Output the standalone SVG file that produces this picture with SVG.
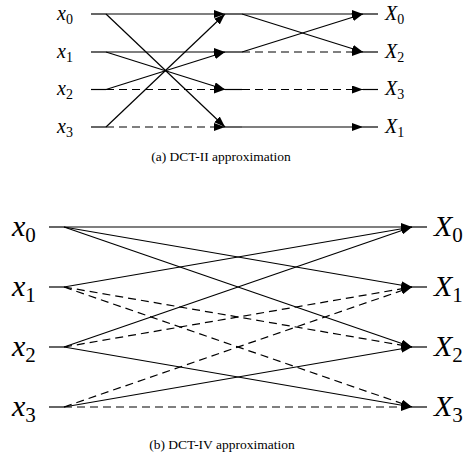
<svg xmlns="http://www.w3.org/2000/svg" width="465" height="461" viewBox="0 0 465 461">
<style>
.ln{stroke:#000;stroke-width:1.2;fill:none}
.d{stroke-dasharray:8 5}
.lab{font-family:"Liberation Serif","Times New Roman",serif;font-style:italic;fill:#000}
.sub{font-style:normal}
.cap{font-family:"Liberation Serif","Times New Roman",serif;font-size:13.5px;fill:#000}
</style>
<defs>
<marker id="ah" markerUnits="userSpaceOnUse" markerWidth="12" markerHeight="8" refX="11" refY="4" orient="auto">
<path d="M0,0 L11,4 L0,8 z" fill="#000" stroke="none"/>
</marker>
</defs>
<rect width="465" height="461" fill="#fff"/>

<g id="top-in0"><text class="lab" x="57" y="20" font-size="20">x<tspan class="sub" font-size="14" dy="4">0</tspan></text><line class="ln" x1="91" y1="14" x2="106" y2="14"/></g>
<g id="top-in1"><text class="lab" x="57" y="58" font-size="20">x<tspan class="sub" font-size="14" dy="4">1</tspan></text><line class="ln" x1="91" y1="52" x2="106" y2="52"/></g>
<g id="top-in2"><text class="lab" x="57" y="95" font-size="20">x<tspan class="sub" font-size="14" dy="4">2</tspan></text><line class="ln" x1="91" y1="89.5" x2="106" y2="89.5"/></g>
<g id="top-in3"><text class="lab" x="57" y="133" font-size="20">x<tspan class="sub" font-size="14" dy="4">3</tspan></text><line class="ln" x1="91" y1="127" x2="106" y2="127"/></g>

<g id="top-mid0"><line class="ln" x1="225" y1="14" x2="242" y2="14"/></g>
<g id="top-mid1"><line class="ln" x1="225" y1="52" x2="242" y2="52"/></g>
<g id="top-mid2"><line class="ln" x1="225" y1="89.5" x2="242" y2="89.5"/></g>
<g id="top-mid3"><line class="ln" x1="225" y1="127" x2="242" y2="127"/></g>

<g id="top-out0"><line class="ln" x1="363" y1="14" x2="378" y2="14"/><text class="lab" x="385" y="20" font-size="20">X<tspan class="sub" font-size="14" dy="4">0</tspan></text></g>
<g id="top-out1"><line class="ln" x1="363" y1="52" x2="378" y2="52"/><text class="lab" x="385" y="58" font-size="20">X<tspan class="sub" font-size="14" dy="4">2</tspan></text></g>
<g id="top-out2"><line class="ln" x1="363" y1="89.5" x2="378" y2="89.5"/><text class="lab" x="385" y="95" font-size="20">X<tspan class="sub" font-size="14" dy="4">3</tspan></text></g>
<g id="top-out3"><line class="ln" x1="363" y1="127" x2="378" y2="127"/><text class="lab" x="385" y="133" font-size="20">X<tspan class="sub" font-size="14" dy="4">1</tspan></text></g>

<g id="caption-a"><text class="cap" x="221" y="161" text-anchor="middle">(a)  DCT-II approximation</text></g>

<g id="bot-in0"><text class="lab" x="12" y="236" font-size="30">x<tspan class="sub" font-size="21" dy="6">0</tspan></text><line class="ln" x1="49" y1="227" x2="64" y2="227"/></g>
<g id="bot-in1"><text class="lab" x="12" y="296" font-size="30">x<tspan class="sub" font-size="21" dy="6">1</tspan></text><line class="ln" x1="49" y1="287" x2="64" y2="287"/></g>
<g id="bot-in2"><text class="lab" x="12" y="356" font-size="30">x<tspan class="sub" font-size="21" dy="6">2</tspan></text><line class="ln" x1="49" y1="347" x2="64" y2="347"/></g>
<g id="bot-in3"><text class="lab" x="12" y="416" font-size="30">x<tspan class="sub" font-size="21" dy="6">3</tspan></text><line class="ln" x1="49" y1="407" x2="64" y2="407"/></g>

<g id="bot-out0"><line class="ln" x1="412" y1="227" x2="427" y2="227"/><text class="lab" x="434" y="236" font-size="30">X<tspan class="sub" font-size="21" dy="6">0</tspan></text></g>
<g id="bot-out1"><line class="ln" x1="412" y1="287" x2="427" y2="287"/><text class="lab" x="434" y="296" font-size="30">X<tspan class="sub" font-size="21" dy="6">1</tspan></text></g>
<g id="bot-out2"><line class="ln" x1="412" y1="347" x2="427" y2="347"/><text class="lab" x="434" y="356" font-size="30">X<tspan class="sub" font-size="21" dy="6">2</tspan></text></g>
<g id="bot-out3"><line class="ln" x1="412" y1="407" x2="427" y2="407"/><text class="lab" x="434" y="416" font-size="30">X<tspan class="sub" font-size="21" dy="6">3</tspan></text></g>

<g id="caption-b"><text class="cap" x="222" y="449" text-anchor="middle">(b)  DCT-IV approximation</text></g>

<g id="connectors">
<line class="ln" x1="106" y1="14" x2="225" y2="14" marker-end="url(#ah)"/>
<line class="ln" x1="106" y1="14" x2="225" y2="127" marker-end="url(#ah)"/>
<line class="ln" x1="106" y1="52" x2="225" y2="52" marker-end="url(#ah)"/>
<line class="ln" x1="106" y1="52" x2="225" y2="89.5" marker-end="url(#ah)"/>
<line class="ln" x1="106" y1="89.5" x2="225" y2="52" marker-end="url(#ah)"/>
<line class="ln d" x1="106" y1="89.5" x2="225" y2="89.5" marker-end="url(#ah)"/>
<line class="ln" x1="106" y1="127" x2="225" y2="14" marker-end="url(#ah)"/>
<line class="ln d" x1="106" y1="127" x2="225" y2="127" marker-end="url(#ah)"/>
<line class="ln" x1="242" y1="14" x2="363" y2="14" marker-end="url(#ah)"/>
<line class="ln" x1="242" y1="14" x2="363" y2="52" marker-end="url(#ah)"/>
<line class="ln" x1="242" y1="52" x2="363" y2="14" marker-end="url(#ah)"/>
<line class="ln d" x1="242" y1="52" x2="363" y2="52" marker-end="url(#ah)"/>
<line class="ln d" x1="242" y1="89.5" x2="363" y2="89.5" marker-end="url(#ah)"/>
<line class="ln" x1="242" y1="127" x2="363" y2="127" marker-end="url(#ah)"/>
<line class="ln" x1="64" y1="227" x2="412" y2="227" marker-end="url(#ah)"/>
<line class="ln" x1="64" y1="227" x2="412" y2="287" marker-end="url(#ah)"/>
<line class="ln" x1="64" y1="227" x2="412" y2="347" marker-end="url(#ah)"/>
<line class="ln" x1="64" y1="287" x2="412" y2="227" marker-end="url(#ah)"/>
<line class="ln d" x1="64" y1="287" x2="412" y2="347" marker-end="url(#ah)"/>
<line class="ln d" x1="64" y1="287" x2="412" y2="407" marker-end="url(#ah)"/>
<line class="ln" x1="64" y1="347" x2="412" y2="227" marker-end="url(#ah)"/>
<line class="ln d" x1="64" y1="347" x2="412" y2="287" marker-end="url(#ah)"/>
<line class="ln" x1="64" y1="347" x2="412" y2="407" marker-end="url(#ah)"/>
<line class="ln d" x1="64" y1="407" x2="412" y2="287" marker-end="url(#ah)"/>
<line class="ln" x1="64" y1="407" x2="412" y2="347" marker-end="url(#ah)"/>
<line class="ln d" x1="64" y1="407" x2="412" y2="407" marker-end="url(#ah)"/>
</g>
</svg>
